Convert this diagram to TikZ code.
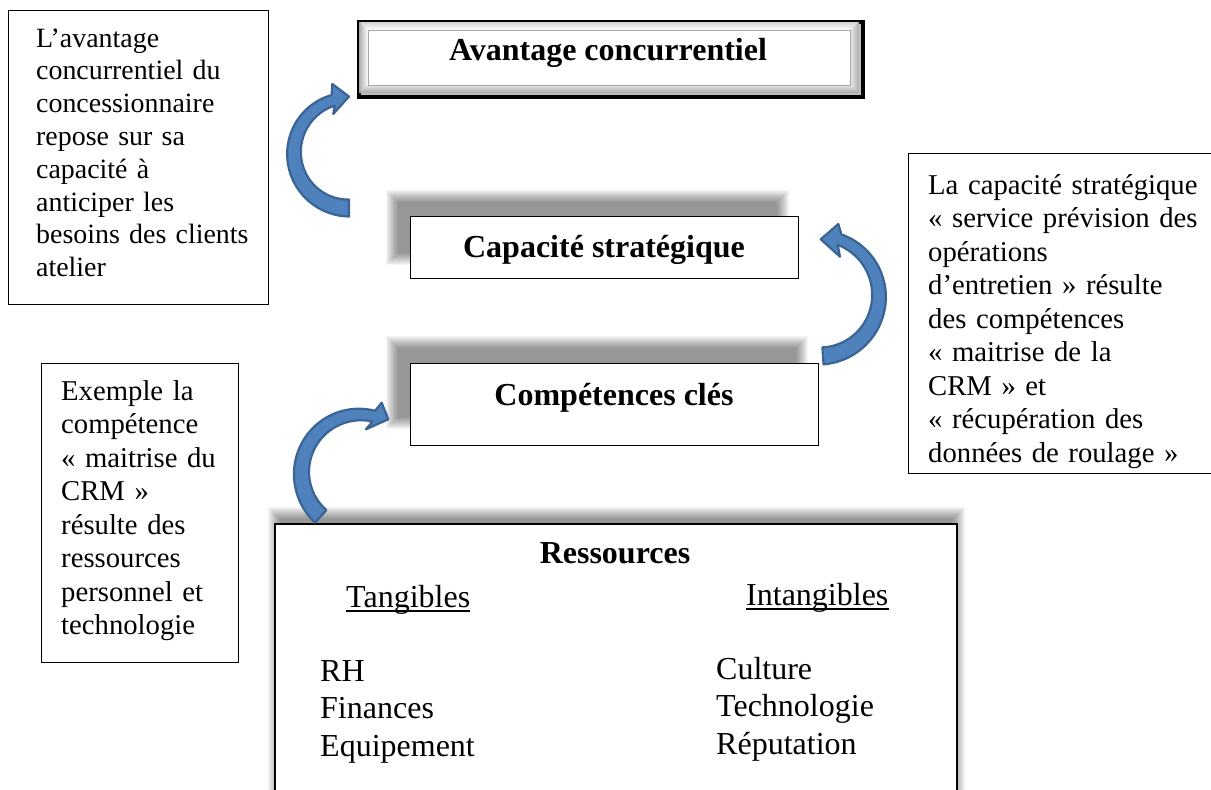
\documentclass[tikz,border=0pt]{standalone}
\usepackage{fontspec}
\setmainfont{Liberation Serif}
\definecolor{arrowfill}{HTML}{4F81BD}
\definecolor{arrowline}{HTML}{3A6494}
\newcommand\softshadow[4]{%
  \foreach \e in {7,6,5,4,3,2,1,0,-1,-2,-3,-4,-5}{%
    \fill[black, opacity=0.04] ({#1-(\e)},{#2-(\e)}) rectangle ({#3+(\e)},{#4+(\e)});}}
\begin{document}
\begin{tikzpicture}[x=1pt, y=-1pt,
  box/.style={draw=black, line width=1.2pt, fill=white, inner sep=0pt, anchor=north west},
  annot/.style={font=\fontsize{28.7}{33.5}\selectfont, text width=330pt, align=left, inner sep=0pt, anchor=base west},
  annotsmall/.style={annot, font=\fontsize{27.9}{32.8}\selectfont},
  titletext/.style={font=\fontsize{32}{38}\selectfont\bfseries, inner sep=0pt, anchor=base},
  restext/.style={font=\fontsize{32}{37.5}\selectfont, inner sep=0pt, anchor=base west},
  reslist/.style={font=\fontsize{32}{37.5}\selectfont, text width=220pt, align=left, inner sep=0pt, anchor=base west},
  blockarrow/.style={fill=arrowfill, draw=arrowline, line width=2.2pt, line join=round},
]
\useasboundingbox (0,0) rectangle (1211,790);

% ---------- shadows ----------
\softshadow{393}{197}{782}{258}
\softshadow{393}{343}{801}{422}
\softshadow{275}{514}{958}{800}

% ---------- annotation boxes ----------
\node[box, minimum width=260pt, minimum height=294pt] (tlbox) at (8,10) {};
\node[annotsmall] (tltext) at (36,47) {L’avantage\\concurrentiel du\\concessionnaire\\repose sur sa\\capacité à\\anticiper les\\besoins des clients\\atelier};

\node[box, minimum width=330pt, minimum height=320pt] (rbox) at (908,153) {};
\node[annot] (rtext) at (928,194) {La capacité stratégique\\« service prévision des\\opérations\\d’entretien » résulte\\des compétences\\« maitrise de la\\CRM » et\\« récupération des\\données de roulage »};

\node[box, minimum width=197pt, minimum height=299pt] (lbbox) at (41,363) {};
\node[annot] (lbtext) at (61,400) {Exemple la\\compétence\\« maitrise du\\CRM »\\résulte des\\ressources\\personnel et\\technologie};

% ---------- Avantage concurrentiel (bevelled box) ----------
\node[draw=black, line width=3.5pt, fill=gray!50, inner sep=0pt, anchor=north west,
      minimum width=504pt, minimum height=75pt] (avbox) at (357,20) {};
\shade[top color=gray!35, bottom color=white] (359,22) -- (859,22) -- (850,30) -- (368,30) -- cycle;
\shade[left color=gray!65, right color=white] (359,22) -- (368,30) -- (368,85) -- (359,93) -- cycle;
\shade[right color=gray!65, left color=gray!15] (859,22) -- (850,30) -- (850,85) -- (859,93) -- cycle;
\shade[top color=gray!20, bottom color=gray!70] (359,93) -- (368,85) -- (850,85) -- (859,93) -- cycle;
\node[draw=gray!70, line width=0.8pt, fill=white, inner sep=0pt, anchor=north west,
      minimum width=482pt, minimum height=55pt] (avinner) at (368,30) {};
\node[titletext] (avtitle) at (608,60) {Avantage concurrentiel};

% ---------- central boxes ----------
\node[box, minimum width=388pt, minimum height=62pt] (capbox) at (410,216) {};
\node[titletext] (captitle) at (604,257) {Capacité stratégique};

\node[box, minimum width=408pt, minimum height=82pt] (compbox) at (410,363) {};
\node[titletext] (comptitle) at (614,405) {Compétences clés};

% ---------- Ressources ----------
\node[box, line width=1.6pt, minimum width=682pt, minimum height=280pt] (resbox) at (274,523) {};
\node[titletext] (restitle) at (615,563) {Ressources};
\node[restext] (tang) at (346,607) {Tangibles};
\draw[line width=1.3pt] ([yshift=-4pt]tang.base west) -- ([yshift=-4pt]tang.base east);
\node[restext] (intang) at (746,605) {Intangibles};
\draw[line width=1.3pt] ([yshift=-4pt]intang.base west) -- ([yshift=-4pt]intang.base east);
\node[reslist] (tanglist) at (320,681) {RH\\Finances\\Equipement};
\node[reslist] (intanglist) at (716,679) {Culture\\Technologie\\Réputation};

% ---------- curved block arrows ----------
% capacité -> avantage (left)
\path[blockarrow]
  plot[domain=90:253.3, samples=50, variable=\t]
    ({349+(55+(17-6*(\t-90)/163.3)/2)*cos(\t)}, {153+(55+(17-6*(\t-90)/163.3)/2)*sin(\t)})
  -- (332.3,84) -- (349,96.5) -- (333.3,114)
  -- plot[domain=253.3:90, samples=50, variable=\t]
    ({349+(55-(17-6*(\t-90)/163.3)/2)*cos(\t)}, {153+(55-(17-6*(\t-90)/163.3)/2)*sin(\t)})
  -- cycle;

% compétences -> capacité (right)
\path[blockarrow]
  plot[domain=86.2:-70, samples=50, variable=\t]
    ({819+(60+(17-6*(86.2-\t)/156.2)/2)*cos(\t)}, {296+(60+(17-6*(86.2-\t)/156.2)/2)*sin(\t)})
  -- (838.3,224) -- (820.7,239.3) -- (840,256.7)
  -- plot[domain=-70:86.2, samples=50, variable=\t]
    ({819+(60-(17-6*(86.2-\t)/156.2)/2)*cos(\t)}, {296+(60-(17-6*(86.2-\t)/156.2)/2)*sin(\t)})
  -- cycle;

% ressources -> compétences (bottom left)
\path[blockarrow]
  plot[domain=132.2:283.6, samples=50, variable=\t]
    ({360+(58.5+(17-6*(\t-132.2)/151.4)/2)*cos(\t)}, {473+(58.5+(17-6*(\t-132.2)/151.4)/2)*sin(\t)})
  -- (381.7,402.7) -- (388.3,419.3) -- (366,429.3)
  -- plot[domain=283.6:132.2, samples=50, variable=\t]
    ({360+(58.5-(17-6*(\t-132.2)/151.4)/2)*cos(\t)}, {473+(58.5-(17-6*(\t-132.2)/151.4)/2)*sin(\t)})
  -- cycle;
\end{tikzpicture}
\end{document}
